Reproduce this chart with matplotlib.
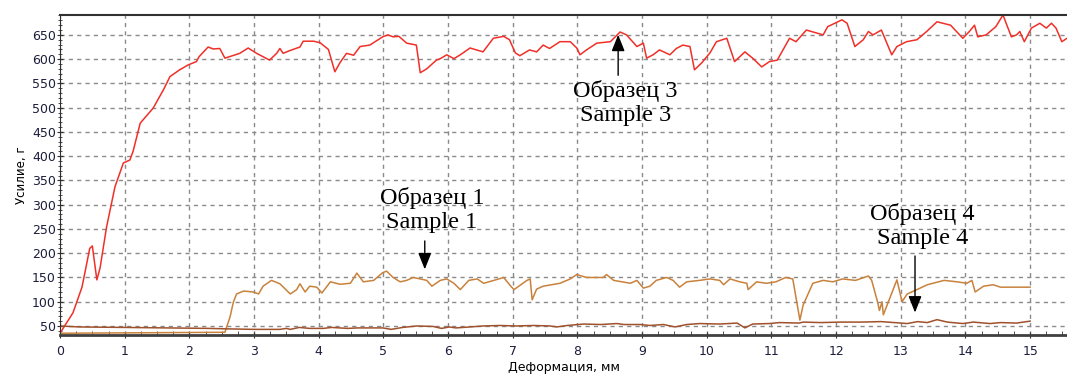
import matplotlib.pyplot as plt
from matplotlib.ticker import MultipleLocator

# Sample 3 (red)
x3 = [0, 0.2, 0.34, 0.46, 0.5, 0.57, 0.62, 0.72, 0.85, 0.98, 1.08, 1.13, 1.24, 1.44, 1.6, 1.7,
      1.85, 1.98, 2.11, 2.15, 2.29, 2.37, 2.47, 2.55, 2.62, 2.78, 2.91, 3.04, 3.14, 3.24, 3.35,
      3.4, 3.45, 3.56, 3.71, 3.76, 3.92, 4.02, 4.15, 4.25, 4.33, 4.43, 4.54, 4.64, 4.79, 4.99,
      5.07, 5.15, 5.24, 5.36, 5.51, 5.57, 5.67, 5.82, 5.88, 5.98, 6.09, 6.19, 6.34, 6.54, 6.7,
      6.86, 6.95, 7.04, 7.11, 7.26, 7.37, 7.47, 7.57, 7.73, 7.89, 7.99, 8.04, 8.14, 8.3, 8.51,
      8.66, 8.76, 8.92, 9.02, 9.07, 9.17, 9.27, 9.43, 9.53, 9.63, 9.74, 9.81, 9.92, 10.05,
      10.15, 10.31, 10.43, 10.59, 10.71, 10.85, 10.97, 11.09, 11.28, 11.38, 11.54, 11.72,
      11.8, 11.87, 12.09, 12.17, 12.29, 12.42, 12.5, 12.57, 12.7, 12.86, 12.94, 13.09, 13.25,
      13.4, 13.56, 13.77, 13.96, 14.06, 14.14, 14.19, 14.32, 14.47, 14.58, 14.71, 14.79,
      14.84, 14.91, 15.02, 15.15, 15.25, 15.33, 15.4, 15.49, 15.57]
y3 = [35, 77, 130, 210, 215, 145, 170, 254, 337, 386, 392, 410, 468, 499, 537, 564,
      578, 588, 595, 605, 625, 621, 622, 602, 605, 612, 623, 612, 605, 598, 612,
      622, 612, 618, 625, 637, 637, 634, 620, 574, 593, 612, 608, 626, 629, 646,
      650, 646, 647, 633, 629, 572, 580, 598, 601, 609, 601, 609, 623, 615, 643,
      647, 640, 613, 607, 619, 615, 629, 622, 636, 636, 623, 609, 619, 633, 636,
      656, 650, 626, 633, 602, 609, 619, 609, 622, 629, 626, 578, 592, 613,
      636, 643, 595, 615, 602, 584, 595, 598, 643, 636, 660, 653,
      650, 667, 681, 674, 626, 640, 657, 650, 660, 609, 626, 636, 640,
      657, 677, 670, 643, 657, 670, 646, 650, 667, 691, 646, 650,
      657, 636, 664, 674, 664, 674, 664, 636, 643]

# Sample 1 (orange)
x1 = [0, 2.55, 2.63, 2.68, 2.73, 2.84, 2.99, 3.07, 3.14, 3.27, 3.4, 3.56, 3.66, 3.71, 3.79,
      3.86, 3.97, 4.05, 4.18, 4.33, 4.49, 4.59, 4.69, 4.85, 4.99, 5.05, 5.15, 5.26, 5.36,
      5.46, 5.57, 5.67, 5.75, 5.88, 5.98, 6.09, 6.19, 6.32, 6.45, 6.55, 6.71, 6.86, 6.97,
      7.02, 7.22, 7.27, 7.3, 7.37, 7.47, 7.73, 7.89, 7.99, 8.14, 8.4, 8.45, 8.56, 8.82, 8.92,
      9.02, 9.12, 9.22, 9.38, 9.48, 9.58, 9.69, 9.89, 10.05, 10.2, 10.26, 10.36, 10.51,
      10.62, 10.64, 10.77, 10.92, 11.07, 11.22, 11.33, 11.44, 11.49, 11.64, 11.8, 11.95,
      12.1, 12.3, 12.5, 12.55, 12.64, 12.67, 12.71, 12.73, 12.94, 13.02, 13.1, 13.25, 13.41,
      13.67, 13.87, 14.02, 14.1, 14.15, 14.28, 14.43, 14.54, 15.0]
y1 = [35, 37, 69, 99, 116, 122, 120, 116, 132, 144, 137, 116, 125, 137, 120,
      132, 130, 118, 141, 136, 138, 159, 141, 144, 160, 163, 150, 141, 144,
      150, 147, 144, 132, 144, 147, 138, 125, 144, 147, 138, 144, 150, 132,
      125, 144, 147, 104, 126, 132, 138, 147, 156, 150, 150, 156, 144, 138, 144,
      128, 132, 144, 150, 144, 130, 141, 144, 147, 144, 135, 147, 141,
      138, 125, 141, 138, 141, 150, 147, 62, 93, 138, 144, 141,
      147, 144, 153, 144, 100, 82, 100, 73, 145, 100, 116, 125, 135,
      144, 141, 138, 144, 120, 132, 135, 130, 130]

# Sample 4 (dark brown)
x4 = [0, 0.3, 1.0, 1.65, 2.3, 2.6, 3.0, 3.4, 3.5, 3.56, 3.7, 3.86, 4.07, 4.2, 4.45, 4.6,
      4.99, 5.12, 5.3, 5.51, 5.77, 5.9, 6.02, 6.12, 6.34, 6.54, 6.8, 7.06, 7.32, 7.58, 7.68,
      7.84, 8.1, 8.36, 8.61, 8.72, 8.97, 9.12, 9.33, 9.51, 9.69, 9.89, 10.2, 10.47, 10.59,
      10.71, 10.97, 11.12, 11.43, 11.49, 11.76, 12.07, 12.38, 12.69, 12.9, 13.1, 13.26,
      13.41, 13.56, 13.72, 13.96, 14.12, 14.38, 14.54, 14.79, 15.0]
y4 = [50, 48, 47, 46, 45, 44, 43, 43, 45, 43, 47, 45, 45, 47, 45, 46,
      46, 43, 47, 50, 49, 45, 48, 46, 48, 50, 51, 50, 51, 50, 48,
      51, 54, 53, 55, 53, 53, 51, 53, 48, 53, 55, 54, 56, 46,
      54, 55, 57, 56, 58, 57, 58, 58, 59, 57, 55, 59,
      57, 63, 58, 55, 58, 55, 57, 56, 60]

fig = plt.figure(figsize=(10.67, 3.74), dpi=100)
ax = fig.add_axes([60 / 1067, 1 - 335 / 374, 1007 / 1067, 320 / 374])

ax.plot(x3, y3, color='#f03028', lw=1.1)
ax.plot(x1, y1, color='#c8823c', lw=1.1)
ax.plot(x4, y4, color='#a0502a', lw=1.1)

ax.set_xlim(0, 15.57)
ax.set_ylim(31.4, 691)
ax.xaxis.set_major_locator(MultipleLocator(1))
ax.xaxis.set_minor_locator(MultipleLocator(0.25))
ax.yaxis.set_major_locator(MultipleLocator(50))
ax.yaxis.set_minor_locator(MultipleLocator(10))
ax.set_yticks(range(50, 651, 50))

ax.grid(True, which='major', color='#8a8a8a', ls=(0, (3, 3)), lw=1)
ax.set_axisbelow(True)

ax.spines['right'].set_visible(False)
ax.spines['top'].set_color('#303030')
ax.spines['top'].set_linewidth(1.5)
ax.spines['bottom'].set_color('#404040')
ax.spines['bottom'].set_linewidth(2)
ax.spines['left'].set_color('#303030')

ax.tick_params(axis='both', which='major', labelsize=9, labelcolor='#1c1c3c',
               color='#303030', length=4, direction='inout')
ax.tick_params(axis='x', which='minor', direction='in', length=3, color='#303030')
ax.tick_params(axis='y', which='minor', direction='inout', length=3, color='#303030')
ax.tick_params(axis='x', which='major', pad=5)
ax.tick_params(axis='y', which='major', pad=1)

ax.set_xlabel('Деформация, мм', fontsize=9, labelpad=2)
ax.set_ylabel('Усилие, г', fontsize=8.5, labelpad=3)

ann = dict(fontsize=17.5, family='Liberation Serif', ha='center', va='center', linespacing=1.15)
arr = dict(arrowstyle='-|>,head_width=0.4,head_length=1.0', color='black', lw=1)

ax.text(8.74, 510, 'Образец 3\nSample 3', **ann)
ax.annotate('', xy=(8.63, 656), xytext=(8.63, 561), arrowprops=arr)

ax.text(5.75, 289, 'Образец 1\nSample 1', **ann)
ax.annotate('', xy=(5.64, 161), xytext=(5.64, 231), arrowprops=arr)

ax.text(13.33, 256, 'Образец 4\nSample 4', **ann)
ax.annotate('', xy=(13.22, 72), xytext=(13.22, 200), arrowprops=arr)

fig.savefig('out.png', dpi=100)
